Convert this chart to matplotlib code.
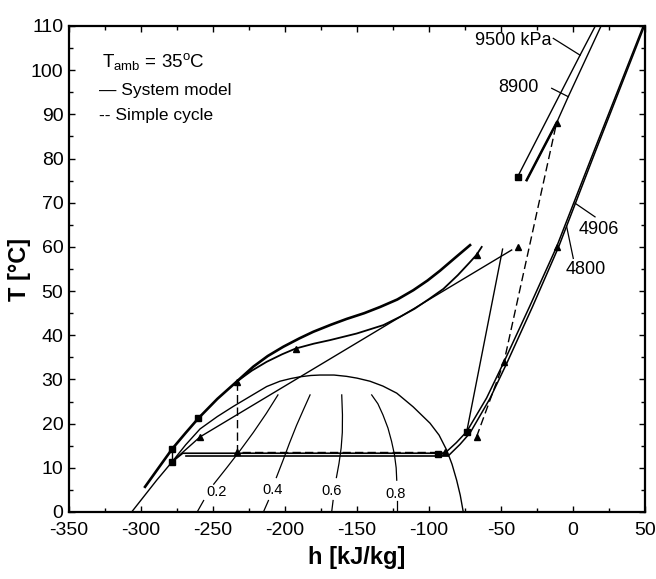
import matplotlib
matplotlib.use('Agg')
import matplotlib.pyplot as plt
from matplotlib.ticker import MultipleLocator

plt.rcParams['font.family'] = ['Liberation Sans', 'DejaVu Sans']
plt.rcParams['mathtext.fontset'] = 'custom'
plt.rcParams['mathtext.rm'] = 'Liberation Sans'
plt.rcParams['mathtext.it'] = 'Liberation Sans:italic'
plt.rcParams['axes.unicode_minus'] = False

# ---------------- data (h in kJ/kg, T in degC) ----------------
dome_h = [-306.5, -289.1, -278.3, -269.0, -259.0, -247.0, -235.9, -222.0, -212.7, -203.5,
          -196.0, -189.6, -182.0, -175.7, -166.0, -157.2, -150.0, -141.0, -132.0,
          -122.4, -111.0, -99.3, -93.0, -87.7, -84.0, -80.8, -78.3, -76.2]
dome_T = [0.0, 7.2, 11.4, 15.2, 18.8, 21.6, 23.9, 26.6, 28.4, 29.6,
          30.2, 30.6, 30.9, 31.0, 31.0, 30.7, 30.3, 29.6, 28.5,
          26.9, 23.8, 20.1, 17.4, 14.0, 10.8, 7.2, 3.8, 0.0]

# quality lines (lower piece below label, upper piece above label)
q_labels = ['0.2', '0.4', '0.6', '0.8']
q_label_h = [-247.6, -208.7, -167.4, -123.0]
q_label_T = [4.6, 4.9, 4.8, 4.1]
q_lo_h = [[-261.0, -256.5], [-215.0, -211.5], [-167.6, -166.6], [-122.4, -122.4]]
q_lo_T = [[0.0, 2.6], [0.0, 2.6], [0.0, 2.6], [0.0, 2.6]]
q_hi_h = [[-249.5, -240.5, -231.0, -222.0, -213.0, -204.9],
          [-206.0, -201.0, -197.0, -192.0, -187.0, -182.6],
          [-164.3, -162.5, -161.0, -160.2, -160.1, -160.6],
          [-122.4, -122.8, -124.0, -126.0, -128.5, -132.0, -135.5, -139.8]]
q_hi_T = [[6.3, 10.0, 14.0, 18.0, 22.3, 26.5],
          [7.8, 12.0, 15.5, 19.6, 23.3, 26.5],
          [7.8, 11.0, 14.5, 18.0, 22.0, 26.5],
          [7.2, 10.0, 13.0, 16.0, 19.0, 22.0, 24.5, 26.5]]

# high-pressure isobar, liquid-like branch (thick)
hp_h = [-297.2, -288.0, -278.3, -269.0, -260.2, -247.0, -233.6, -222.0, -212.0, -201.2,
        -190.0, -180.3, -168.0, -157.2, -145.0, -134.0, -122.0, -110.9, -101.0, -92.4,
        -82.0, -71.5]
hp_T = [5.7, 9.9, 14.3, 17.9, 21.2, 25.6, 29.5, 32.9, 35.3, 37.4,
        39.3, 40.8, 42.4, 43.7, 45.0, 46.4, 48.1, 50.2, 52.4, 54.6,
        57.5, 60.4]

# system-model gas cooler path
gc_h = [-233.6, -223.0, -212.7, -202.0, -192.6, -180.0, -168.8, -150.2, -131.7, -120.0,
        -110.0, -100.0, -90.0, -80.0, -72.0, -67.0, -63.4]
gc_T = [29.5, 32.0, 34.0, 35.7, 37.0, 38.1, 38.9, 40.4, 42.3, 44.2,
        46.0, 48.2, 50.5, 53.6, 56.4, 58.2, 60.0]

# internal heat exchanger line
ihx_h = [-278.3, -259.0, -42.6]
ihx_T = [11.4, 17.0, 59.3]

# expansion (short vertical)
exp_h = [-278.3, -278.3]
exp_T = [11.4, 14.3]

# evaporator lines
evap1_h = [-278.3, -271.0, -93.5, -89.0]
evap1_T = [11.4, 13.3, 13.3, 13.3]
evap2_h = [-268.5, -86.5]
evap2_T = [12.75, 12.75]

# low-pressure isobars
lp1_h = [-89.0, -81.0, -73.8, -60.0, -47.9, -30.0, -11.4, 14.1, 48.8]
lp1_T = [13.3, 15.7, 18.2, 25.8, 34.0, 46.6, 60.0, 81.3, 110.0]
lp2_h = [-86.5, -78.5, -71.5, -57.8, -45.8, -28.2, -10.0, 15.2, 49.6]
lp2_T = [12.75, 15.3, 17.9, 25.6, 33.8, 46.4, 60.0, 81.3, 110.0]

# compressor line (system model)
comp_h = [-73.8, -48.9]
comp_T = [18.2, 59.5]

# high-pressure isobars, vapour-like branch
p9500_h = [-38.4, -13.7, 4.9, 15.5]
p9500_T = [75.9, 91.6, 103.4, 110.0]
p8900_h = [-32.2, -11.4, -3.3, 19.5]
p8900_T = [75.1, 88.1, 94.0, 110.0]
gcin_h = [-32.2, -22.0, -11.4]
gcin_T = [75.1, 81.5, 88.1]

# simple cycle (dashed)
sc1_h = [-233.6, -233.6, -88.9]
sc1_T = [29.5, 13.6, 13.6]
sc2_h = [-67.0, -47.9, -11.4]
sc2_T = [17.0, 34.0, 88.1]

# markers
sq_h = [-278.3, -278.3, -260.2, -93.5, -73.8, -38.4]
sq_T = [14.3, 11.4, 21.2, 13.1, 18.2, 75.9]
tri_h = [-259.0, -233.6, -233.6, -192.6, -88.9, -67.0, -67.0, -47.9, -38.4, -11.4, -11.4]
tri_T = [17.0, 29.5, 13.5, 37.0, 13.5, 17.0, 58.2, 34.0, 60.0, 60.0, 88.1]

# isobar labels and leaders
p_labels = ['9500 kPa', '8900', '4906', '4800']
p_label_h = [-41.7, -38.2, 18.0, 9.0]
p_label_T = [106.7, 96.1, 63.9, 54.9]
lead_h = [[-13.7, 4.9], [-14.8, -3.3], [15.3, 1.4], [0.2, -4.4]]
lead_T = [[107.2, 103.4], [95.9, 94.0], [66.8, 69.9], [57.4, 64.6]]

# ---------------- figure ----------------
fig = plt.figure(figsize=(6.56, 5.79), dpi=100)
ax = fig.add_axes([69 / 656, 1 - 512 / 579, 576 / 656, 486 / 579])

k = 'black'
ax.plot(dome_h, dome_T, color=k, lw=1.0)
for lh, lT, uh, uT in zip(q_lo_h, q_lo_T, q_hi_h, q_hi_T):
    ax.plot(lh, lT, color=k, lw=0.9)
    ax.plot(uh, uT, color=k, lw=0.9)
for s, h, T in zip(q_labels, q_label_h, q_label_T):
    ax.text(h, T, s, fontsize=10.5, ha='center', va='center')

ax.plot(hp_h, hp_T, color=k, lw=1.9)
ax.plot(gc_h, gc_T, color=k, lw=1.3)
ax.plot(ihx_h, ihx_T, color=k, lw=1.0)
ax.plot(exp_h, exp_T, color=k, lw=1.0)
ax.plot(evap1_h, evap1_T, color=k, lw=1.2)
ax.plot(evap2_h, evap2_T, color=k, lw=1.2)
ax.plot(lp1_h, lp1_T, color=k, lw=1.1)
ax.plot(lp2_h, lp2_T, color=k, lw=1.1)
ax.plot(comp_h, comp_T, color=k, lw=1.0)
ax.plot(p9500_h, p9500_T, color=k, lw=1.0)
ax.plot(p8900_h, p8900_T, color=k, lw=1.0)
ax.plot(gcin_h, gcin_T, color=k, lw=1.8)
ax.plot(sc1_h, sc1_T, color=k, lw=1.0, ls=(0, (6, 3)))
ax.plot(sc2_h, sc2_T, color=k, lw=1.0, ls=(0, (6, 3)))

ax.plot(sq_h, sq_T, ls='none', marker='s', ms=4.2, color=k)
ax.plot(tri_h, tri_T, ls='none', marker='^', ms=4.0, color=k)

for s, h, T in zip(p_labels, p_label_h, p_label_T):
    ax.text(h, T, s, fontsize=13, ha='center', va='center')
for lh, lT in zip(lead_h, lead_T):
    ax.plot(lh, lT, color=k, lw=0.9)

ax.text(-327.3, 100.8, r'T$_{\mathrm{amb}}$ = 35$^{\mathrm{o}}$C', fontsize=13.5,
        ha='left', va='baseline')
ax.text(-329.0, 94.4, '\u2014 System model', fontsize=12.5, ha='left', va='baseline')
ax.text(-329.0, 88.7, '-- Simple cycle', fontsize=12.5, ha='left', va='baseline')

ax.set_xlim(-350, 50)
ax.set_ylim(0, 110)
ax.xaxis.set_major_locator(MultipleLocator(50))
ax.xaxis.set_minor_locator(MultipleLocator(25))
ax.yaxis.set_major_locator(MultipleLocator(10))
ax.yaxis.set_minor_locator(MultipleLocator(5))
ax.tick_params(which='both', direction='in', top=True, right=True,
               labelsize=14, width=1.0)
ax.tick_params(axis='x', which='major', pad=7)
ax.tick_params(axis='y', which='major', pad=4)
ax.tick_params(which='major', length=4)
ax.tick_params(which='minor', length=3)
for sp in ax.spines.values():
    sp.set_linewidth(1.6)

ax.set_xlabel('h [kJ/kg]', fontsize=17, fontweight='bold', labelpad=5)
ax.set_ylabel('T [\u00b0C]', fontsize=17, fontweight='bold', labelpad=0)

fig.savefig('out.png', dpi=100)
